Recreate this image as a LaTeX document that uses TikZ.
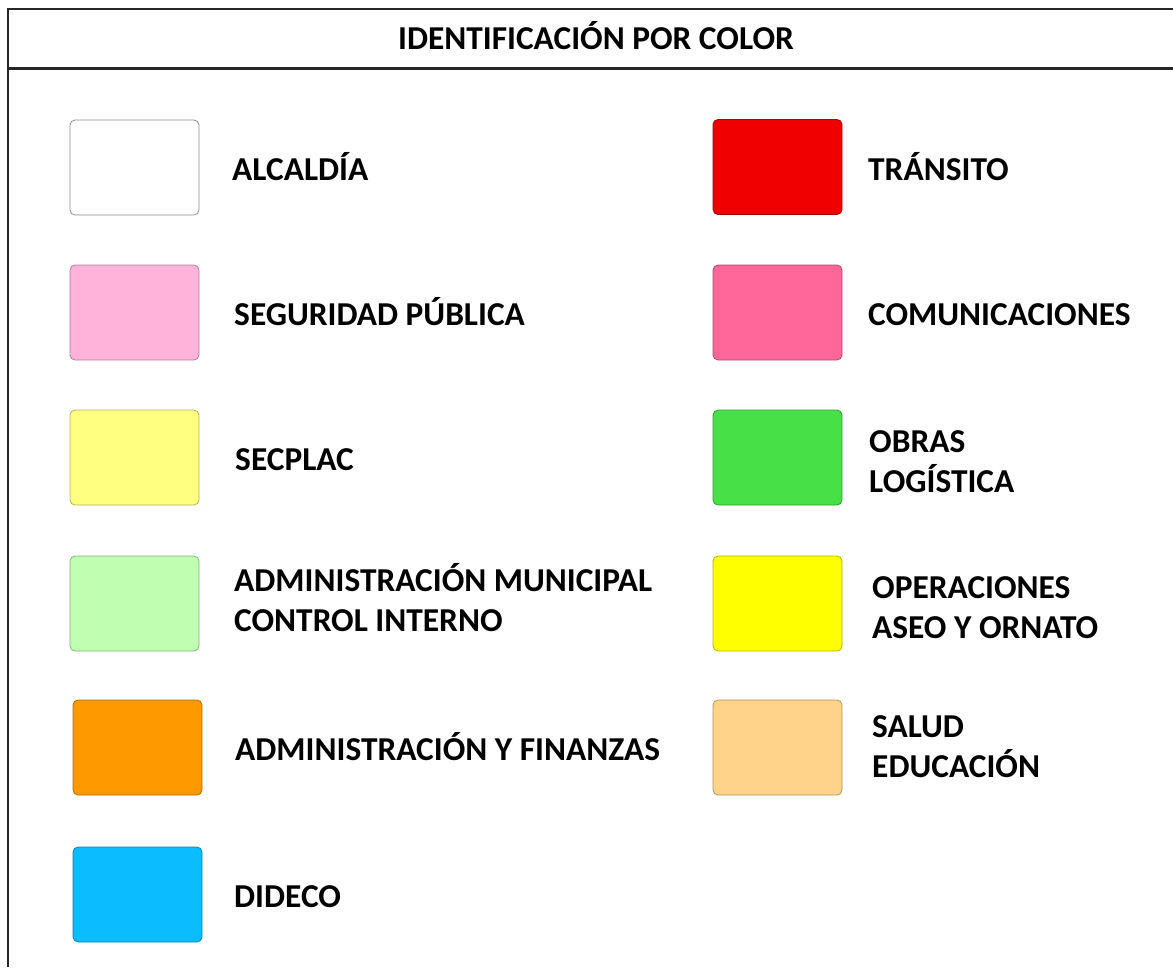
\documentclass[tikz,border=0pt]{standalone}
\usepackage{fontspec}
\setmainfont{Carlito}
\usepackage{tikz}
\usetikzlibrary{shapes,calc}
\definecolor{alcaldiagray}{RGB}{140,140,140}
\definecolor{seguridadpink}{RGB}{255,179,218}
\definecolor{secplacyellow}{RGB}{255,255,128}
\definecolor{adminmint}{RGB}{192,255,178}
\definecolor{finanzasorange}{RGB}{255,153,0}
\definecolor{didecoblue}{RGB}{10,189,255}
\definecolor{transitored}{RGB}{240,0,0}
\definecolor{comunicpink}{RGB}{255,102,153}
\definecolor{obrasgreen}{RGB}{71,224,71}
\definecolor{operacyellow}{RGB}{255,255,0}
\definecolor{saludtan}{RGB}{255,211,138}

\begin{document}
\begin{tikzpicture}[x=1pt, y=-1pt,
    swatch/.style={rectangle, rounded corners=5pt, draw=#1!70!black, fill=#1, line width=0.8pt, minimum width=129pt, minimum height=95pt, inner sep=0pt},
    lbl/.style={anchor=base west, inner sep=0pt, align=left, font=\fontsize{33.4}{40}\selectfont\bfseries},
    frame/.style={line width=2.5pt, black!85}]
    \useasboundingbox (0,0) rectangle (1173,967);

    % Frame and title
    \draw[frame] (1173,9) -- (8,9) -- (8,967);
    \draw[frame] (8,68.5) -- (1173,68.5);
    \node[lbl, anchor=base] (title) at (596,49) {IDENTIFICACIÓN POR COLOR};

    % Left column
    \node[swatch=white, draw=alcaldiagray] (alc) at (134.5,167.5) {};
    \node[swatch=seguridadpink] (seg) at (134.5,312.5) {};
    \node[swatch=secplacyellow] (sec) at (134.5,457.5) {};
    \node[swatch=adminmint] (adm) at (134.5,603.5) {};
    \node[swatch=finanzasorange] (fin) at (137.5,747.5) {};
    \node[swatch=didecoblue] (did) at (137.5,894.5) {};

    \node[lbl] (alctxt) at (232,180) {ALCALDÍA};
    \node[lbl] (segtxt) at (234,325) {SEGURIDAD PÚBLICA};
    \node[lbl] (sectxt) at (235,470) {SECPLAC};
    \node[lbl] (admtxt) at (234,631) {ADMINISTRACIÓN MUNICIPAL\\CONTROL INTERNO};
    \node[lbl] (fintxt) at (235,760) {ADMINISTRACIÓN Y FINANZAS};
    \node[lbl] (didtxt) at (234,907) {DIDECO};

    % Right column
    \node[swatch=transitored] (tra) at (777.5,167) {};
    \node[swatch=comunicpink] (com) at (777.5,312.5) {};
    \node[swatch=obrasgreen] (obr) at (777.5,457.5) {};
    \node[swatch=operacyellow] (ope) at (777.5,603.5) {};
    \node[swatch=saludtan] (sal) at (777.5,747.5) {};

    \node[lbl] (tratxt) at (868,180) {TRÁNSITO};
    \node[lbl] (comtxt) at (868,325) {COMUNICACIONES};
    \node[lbl] (obrtxt) at (869,492) {OBRAS\\LOGÍSTICA};
    \node[lbl] (opetxt) at (872,638) {OPERACIONES\\ASEO Y ORNATO};
    \node[lbl] (saltxt) at (872,777) {SALUD\\EDUCACIÓN};
\end{tikzpicture}
\end{document}
